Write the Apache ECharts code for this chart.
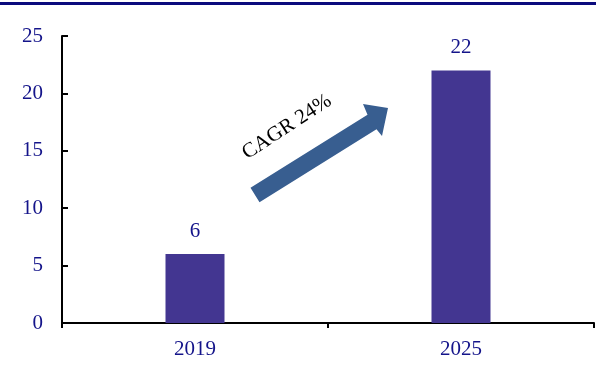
<!DOCTYPE html>
<html><head><meta charset="utf-8">
<script src="https://cdn.jsdelivr.net/npm/echarts@6/dist/echarts.min.js"></script>
<style>html,body{margin:0;padding:0;background:#fff}#c{width:596px;height:376px}</style>
</head><body><div id="c"></div>
<script>
var categories = ['2019', '2025'];
var values = [6, 22];
var yTicks = [0, 5, 10, 15, 20, 25];
var cagrLabel = 'CAGR 24%';

var chart = echarts.init(document.getElementById('c'), null, {renderer: 'canvas'});
var labelColor = '#14148a';
var font = '"Liberation Serif", "DejaVu Serif", serif';
chart.setOption({
  animation: false,
  grid: {left: 62, right: 2, top: 36, bottom: 53},
  xAxis: {
    type: 'category', data: categories, boundaryGap: true,
    axisLine: {lineStyle: {color: '#000', width: 2}},
    axisTick: {show: true, length: 5, lineStyle: {color: '#000', width: 2}},
    axisLabel: {color: labelColor, fontFamily: font, fontSize: 21, margin: 16}
  },
  yAxis: {
    type: 'value', min: yTicks[0], max: yTicks[yTicks.length - 1], interval: 5,
    splitLine: {show: false},
    axisLine: {show: true, lineStyle: {color: '#000', width: 2}},
    axisTick: {show: true, inside: true, length: 6, lineStyle: {color: '#000', width: 2}},
    axisLabel: {color: labelColor, fontFamily: font, fontSize: 21, margin: 19}
  },
  series: [{
    type: 'bar', data: values, barWidth: 59,
    itemStyle: {color: '#433691'},
    label: {show: true, position: 'top', distance: 12, color: labelColor, fontFamily: font, fontSize: 21}
  }],
  graphic: [
    {type: 'rect', shape: {x: 0, y: 2, width: 596, height: 3}, style: {fill: '#0b0b7d'}, z: 10},
    {type: 'polygon', z: 10, shape: {points: [
      [250.5, 187.8], [367.5, 114.8], [363, 104], [388, 108], [382, 136], [376.5, 129.2], [259.5, 202.2]
    ]}, style: {fill: '#385e90'}},
    {type: 'text', z: 10, x: 287, y: 127, rotation: 0.58, style: {
      text: cagrLabel, fill: '#000', font: '21px ' + font, align: 'center', verticalAlign: 'middle'
    }}
  ]
});
</script></body></html>
